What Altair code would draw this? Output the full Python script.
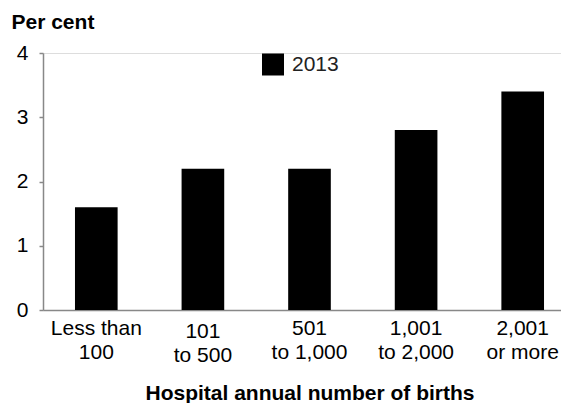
import altair as alt
import pandas as pd

categories = ["Less than\n100", "101\nto 500", "501\nto 1,000", "1,001\nto 2,000", "2,001\nor more"]
values = [1.6, 2.2, 2.2, 2.8, 3.4]
series = ["2013"] * len(categories)

df = pd.DataFrame({"cat": categories, "val": values, "year": series})

FONT = "Liberation Sans"

chart = alt.Chart(df).mark_bar().encode(
    x=alt.X("cat:N", sort=categories,
            scale=alt.Scale(paddingInner=0.6, paddingOuter=0.3, range=[0, 533]),
            axis=alt.Axis(title="Hospital annual number of births",
                          labelAngle=0, ticks=False, tickSize=0,
                          labelExpr="split(datum.value, '\\n')",
                          labelBaseline="alphabetic", labelLineHeight=24,
                          labelPadding={"condition": {"test": "indexof(datum.value, '101') == 0", "value": 27}, "value": 24},
                          labelFontSize=21, labelColor="#000", labelFont=FONT,
                          domainColor="#888888", domainWidth=1.5,
                          titleFontSize=21, titleFontWeight="bold", titleFont=FONT,
                          titleColor="#000", titleBaseline="alphabetic", titleY=89,
                          grid=False)),
    y=alt.Y("val:Q",
            scale=alt.Scale(domain=[0, 4], nice=False),
            axis=alt.Axis(title="Per cent", values=[0, 1, 2, 3, 4],
                          titleAngle=0, titleAlign="left", titleBaseline="alphabetic",
                          titleX=-32, titleY=-25, titleFontSize=21, titleFontWeight="bold",
                          titleFont=FONT, titleColor="#000",
                          labelFontSize=21, labelFont=FONT, labelColor="#000",
                          labelPadding=11, tickSize=4, tickColor="#888888", tickWidth=1.5,
                          domainColor="#888888", domainWidth=1.5, grid=False)),
    color=alt.Color("year:N", scale=alt.Scale(range=["#000000"]),
                    legend=alt.Legend(title=None, orient="none", legendX=219, legendY=0.5,
                                      symbolType="square", symbolSize=484, symbolStrokeWidth=0,
                                      labelFontSize=21, labelFont=FONT, labelColor="#222222",
                                      labelOffset=8, padding=0)),
).properties(
    width=518, height=257,
    autosize=alt.AutoSizeParams(type="none"),
    padding={"left": 35, "top": 45, "right": 0, "bottom": 93},
).configure_view(stroke=None).configure(font=FONT)

chart.save("out.html", embed_options={"renderer": "svg", "actions": False})
